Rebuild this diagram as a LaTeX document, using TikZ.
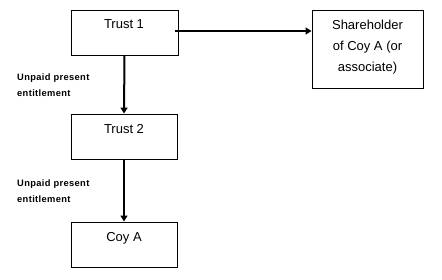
\documentclass[tikz,border=0pt]{standalone}
\usepackage{fontspec}
\setmainfont{Liberation Sans}
\usetikzlibrary{arrows.meta}
\begin{document}
\begin{tikzpicture}[x=1pt,y=-1pt,
  box/.style={draw,line width=0.9pt,inner sep=0pt},
  txt/.style={font=\fontsize{13}{21}\selectfont,align=center,inner sep=0pt},
  conn/.style={line width=2pt,-{Triangle[length=6pt,width=7pt]}},
  lbl/.style={font=\bfseries\fontsize{9.3}{16}\selectfont\addfontfeature{LetterSpace=4},align=left,anchor=west,inner sep=0pt}]
\useasboundingbox (0,0) rectangle (442,280);
\node[box,minimum width=107pt,minimum height=45pt] (t1) at (124.5,32.5) {};
\node[txt] (t1t) at (124,24.5) {Trust 1};
\node[box,minimum width=106pt,minimum height=45pt] (t2) at (124,136.5) {};
\node[txt] (t2t) at (124,129.5) {Trust 2};
\node[box,minimum width=106pt,minimum height=45pt] (c) at (124,244.5) {};
\node[txt] (ct) at (124,238) {Coy A};
\node[box,minimum width=111pt,minimum height=78pt] (s) at (367.5,49) {};
\node[txt] (st) at (367.5,47) {Shareholder\\of Coy A (or\\associate)};
\coordinate (h0) at (175,31);
\draw[conn] (h0) -- (h0 -| s.west);
\draw[conn] (t1.south) -- (t2.north);
\draw[conn] (t2.south) -- (c.north);
\node[lbl] (l1) at (17,85) {Unpaid present\\entitlement};
\node[lbl] (l2) at (17,191.5) {Unpaid present\\entitlement};
\end{tikzpicture}
\end{document}
